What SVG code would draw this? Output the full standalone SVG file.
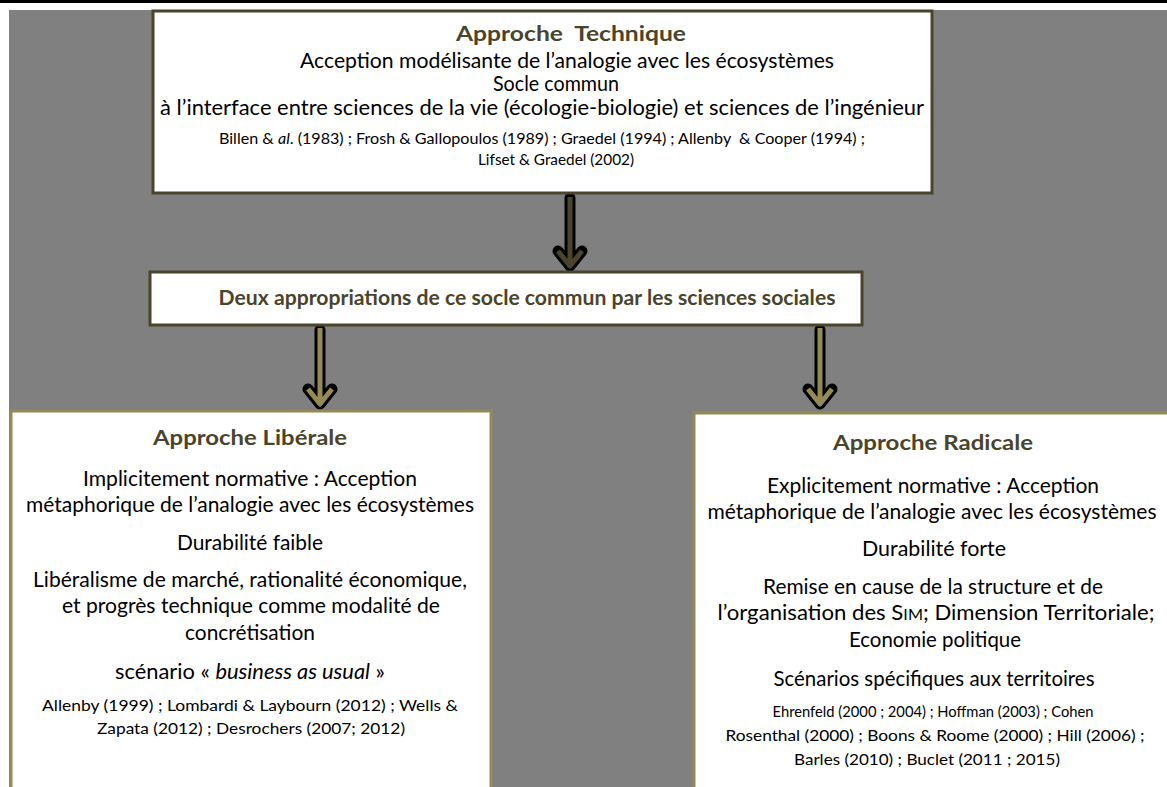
<svg xmlns="http://www.w3.org/2000/svg" width="1167" height="787" viewBox="0 0 1167 787">
<style>
text{font-family:Lato,"Open Sans","Liberation Sans",sans-serif;text-anchor:middle;fill:#000}
.b{font-size:20.5px}
.s{font-size:16px}
.t{font-size:21px;font-weight:bold;fill:#4a452a}
.box1{fill:#fff;stroke:#4a452a;stroke-width:3}
.box2{fill:#fff;stroke:#948a54;stroke-width:3}
.ol{fill:none;stroke:#000;stroke-width:11;stroke-linejoin:round;stroke-linecap:round}
.in1{fill:none;stroke:#4a452a;stroke-width:5;stroke-linejoin:round;stroke-linecap:butt}
.in2{fill:none;stroke:#948a54;stroke-width:5;stroke-linejoin:round;stroke-linecap:butt}
</style>
<rect x="0" y="0" width="1167" height="787" fill="#fff"/>
<rect x="0" y="0" width="1167" height="3" fill="#000"/>
<rect x="9" y="10" width="1158" height="777" fill="#808080"/>

<g id="connectors">
  <g id="arrow-top">
    <path class="ol" d="M570 198 V264 M558 251 L570 266 L582 251"/>
    <path class="in1" d="M570 197 V264 M558 251 L570 266 L582 251"/>
  </g>
  <g id="arrow-left">
    <path class="ol" d="M320 330 V402 M308 389 L320 404 L332 389"/>
    <path class="in2" d="M320 328 V402 M308 389 L320 404 L332 389"/>
  </g>
  <g id="arrow-right">
    <path class="ol" d="M820 330 V402 M808 389 L820 404 L832 389"/>
    <path class="in2" d="M820 328 V402 M808 389 L820 404 L832 389"/>
  </g>
</g>

<g id="node-technique">
  <rect class="box1" x="153" y="11" width="779" height="182"/>
  <text class="t" x="571" y="41" textLength="230" lengthAdjust="spacingAndGlyphs" xml:space="preserve">Approche  Technique</text>
  <text class="b" x="567" y="68" textLength="534" lengthAdjust="spacingAndGlyphs">Acception modélisante de l’analogie avec les écosystèmes</text>
  <text class="b" x="556" y="91" textLength="126" lengthAdjust="spacingAndGlyphs">Socle commun</text>
  <text class="b" x="542" y="115" textLength="764" lengthAdjust="spacingAndGlyphs">à l’interface entre sciences de la vie (écologie-biologie) et sciences de l’ingénieur</text>
  <text class="s" x="542" y="144" textLength="646" lengthAdjust="spacingAndGlyphs" xml:space="preserve">Billen &amp; <tspan font-style="italic">al</tspan>. (1983) ; Frosh &amp; Gallopoulos (1989) ; Graedel (1994) ; Allenby  &amp; Cooper (1994) ;</text>
  <text class="s" x="556" y="165" textLength="156" lengthAdjust="spacingAndGlyphs">Lifset &amp; Graedel (2002)</text>
</g>

<g id="node-appropriations">
  <rect class="box1" x="150" y="272" width="712" height="53"/>
  <text class="t" x="527" y="305" textLength="617" lengthAdjust="spacingAndGlyphs">Deux appropriations de ce socle commun par les sciences sociales</text>
</g>

<g id="node-liberale">
  <rect class="box2" x="11" y="411" width="480" height="380"/>
  <text class="t" x="250" y="445" textLength="194" lengthAdjust="spacingAndGlyphs">Approche Libérale</text>
  <text class="b" x="250" y="486" textLength="334" lengthAdjust="spacingAndGlyphs">Implicitement normative : Acception</text>
  <text class="b" x="250" y="512" textLength="448" lengthAdjust="spacingAndGlyphs">métaphorique de l’analogie avec les écosystèmes</text>
  <text class="b" x="250" y="550" textLength="146" lengthAdjust="spacingAndGlyphs">Durabilité faible</text>
  <text class="b" x="250" y="587" textLength="434" lengthAdjust="spacingAndGlyphs">Libéralisme de marché, rationalité économique,</text>
  <text class="b" x="251" y="613" textLength="378" lengthAdjust="spacingAndGlyphs">et progrès technique comme modalité de</text>
  <text class="b" x="250" y="640" textLength="130" lengthAdjust="spacingAndGlyphs">concrétisation</text>
  <text class="b" x="250" y="679" textLength="270" lengthAdjust="spacingAndGlyphs">scénario « <tspan font-style="italic">business as usual</tspan> »</text>
  <text class="s" x="250" y="711" textLength="416" lengthAdjust="spacingAndGlyphs">Allenby (1999) ; Lombardi &amp; Laybourn (2012) ; Wells &amp;</text>
  <text class="s" x="251" y="734" textLength="308" lengthAdjust="spacingAndGlyphs">Zapata (2012) ; Desrochers (2007; 2012)</text>
</g>

<g id="node-radicale">
  <rect class="box2" x="694" y="413" width="480" height="380"/>
  <text class="t" x="933" y="450" textLength="200" lengthAdjust="spacingAndGlyphs">Approche Radicale</text>
  <text class="b" x="933" y="493" textLength="332" lengthAdjust="spacingAndGlyphs">Explicitement normative : Acception</text>
  <text class="b" x="932" y="519" textLength="449" lengthAdjust="spacingAndGlyphs">métaphorique de l’analogie avec les écosystèmes</text>
  <text class="b" x="934" y="556" textLength="144" lengthAdjust="spacingAndGlyphs">Durabilité forte</text>
  <text class="b" x="933" y="594" textLength="340" lengthAdjust="spacingAndGlyphs">Remise en cause de la structure et de</text>
  <text class="b" x="936" y="620" textLength="437" lengthAdjust="spacingAndGlyphs">l’organisation des S<tspan font-size="15">IM</tspan>; Dimension Territoriale;</text>
  <text class="b" x="935" y="647" textLength="172" lengthAdjust="spacingAndGlyphs">Economie politique</text>
  <text class="b" x="934" y="686" textLength="321" lengthAdjust="spacingAndGlyphs">Scénarios spécifiques aux territoires</text>
  <text class="s" x="933" y="717" textLength="321" lengthAdjust="spacingAndGlyphs">Ehrenfeld (2000 ; 2004) ; Hoffman (2003) ; Cohen</text>
  <text class="s" x="935" y="741" textLength="419" lengthAdjust="spacingAndGlyphs">Rosenthal (2000) ; Boons &amp; Roome (2000) ; Hill (2006) ;</text>
  <text class="s" x="927" y="765" textLength="266" lengthAdjust="spacingAndGlyphs">Barles (2010) ; Buclet (2011 ; 2015)</text>
</g>
</svg>
